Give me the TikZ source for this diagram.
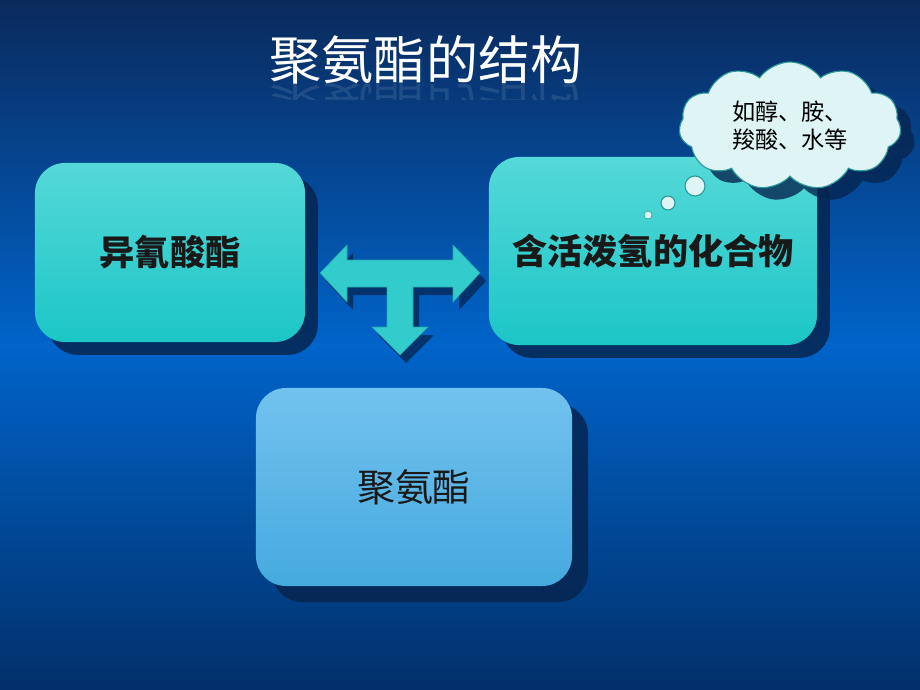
\documentclass[tikz,border=0pt]{standalone}
\usepackage{fontspec}
\setmainfont{Noto Sans CJK SC}
\usetikzlibrary{shapes.symbols,shadows}

\definecolor{bgtop}{HTML}{0A2A5C}
\definecolor{bgmid}{HTML}{0064CA}
\definecolor{bgbot}{HTML}{02306A}
\definecolor{tealtop}{HTML}{55D8D8}
\definecolor{tealbot}{HTML}{1CC6C6}
\definecolor{bluetop}{HTML}{72C2EE}
\definecolor{bluebot}{HTML}{46AADF}
\definecolor{darkshade}{HTML}{062550}
\definecolor{cloudfill}{HTML}{DFF4F4}
\definecolor{cloudline}{HTML}{2A9A9A}
\definecolor{arrowfill}{HTML}{33CCCC}
\definecolor{arrowline}{HTML}{22A8A8}

\newcommand\tshape{(320,273) -- (347,245) -- (347,260) -- (453,260) -- (453,245) -- (480,273) -- (453,302) -- (453,287) -- (413,287) -- (413,327) -- (428,327) -- (400,355) -- (372,327) -- (387,327) -- (387,287) -- (347,287) -- (347,302) -- cycle}

\begin{document}
\begin{tikzpicture}[x=0.025cm, y=-0.025cm,
  box/.style = {rounded corners=0.75cm, inner sep=0pt, text=black!90},
  boxshadow/.style = {drop shadow={shadow xshift=#1, shadow yshift=-#1, fill=darkshade, opacity=0.85}},
  tealbox/.style = {box, top color=tealtop, bottom color=tealbot, boxshadow=0.32cm, font=\bfseries\fontsize{25}{30}\selectfont},
  bluebox/.style = {box, top color=bluetop, bottom color=bluebot, boxshadow=0.4cm, font=\fontsize{27}{30}\selectfont},
  bubble/.style = {circle, inner sep=0pt, fill=cloudfill, draw=cloudline, thick}]
\useasboundingbox (0,0) rectangle (920,690);
\fill[top color=bgtop, bottom color=bgbot, middle color=bgmid] (0,0) rectangle (920,690);

% title with its faint mirror image
\node[text=white, font=\fontsize{37}{40}\selectfont] (title) at (426,60) {聚氨酯的结构};
\begin{scope}
\clip (260,84) rectangle (600,100);
\begin{scope}[shift={(426,107)}, yscale=-1, transform shape]
\node[text=white, opacity=0.1, font=\fontsize{37}{40}\selectfont] (echo) at (0,0) {聚氨酯的结构};
\end{scope}
\end{scope}

% the three boxes
\node[tealbox, minimum width=6.75cm, minimum height=4.475cm] (iso) at (170,252.5) {异氰酸酯};
\node[tealbox, minimum width=8.2cm, minimum height=4.7cm] (hyd) at (653,251) {含活泼氢的化合物};
\node[bluebox, minimum width=7.9cm, minimum height=4.95cm] (pu) at (414,487) {聚氨酯};

% T shaped arrow
\fill[darkshade, opacity=0.75, shift={(6,8)}] \tshape;
\draw[fill=arrowfill, draw=arrowline] \tshape;

% thought cloud
\node[cloud, cloud puffs=11, cloud puff arc=110, aspect=1.8, minimum width=5.55cm, minimum height=3.2cm,
  fill=cloudfill, draw=cloudline, thick, align=left, font=\fontsize{16.5}{20}\selectfont,
  drop shadow={shadow xshift=0.35cm, shadow yshift=-0.3cm, fill=darkshade, opacity=0.8}] (note) at (790,126) {如醇、胺、\\羧酸、水等};
\node[bubble, minimum size=0.5cm] (b1) at (695,186) {};
\node[bubble, minimum size=0.35cm] (b2) at (668,203) {};
\node[bubble, minimum size=0.2cm, thin] (b3) at (648,215) {};
\end{tikzpicture}
\end{document}
